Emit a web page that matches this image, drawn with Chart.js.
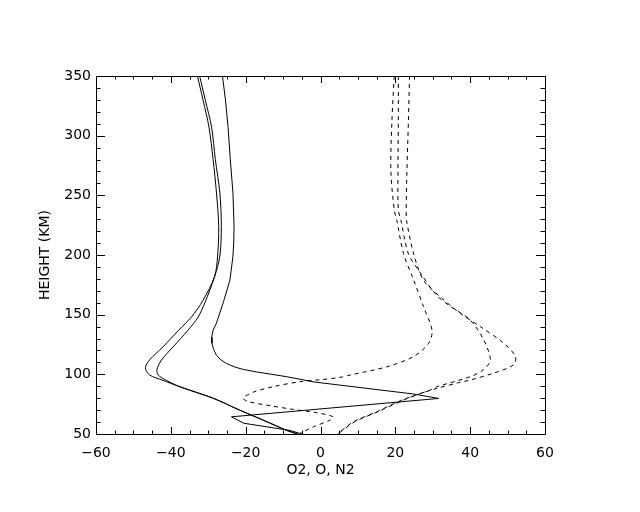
<!DOCTYPE html>
<html>
<head>
<meta charset="utf-8">
<title>Height profiles</title>
<script src="https://cdn.jsdelivr.net/npm/chart.js@4"></script>
<style>
  body { margin: 0; background: #fff; }
  canvas { display: block; }
</style>
</head>
<body>
<canvas id="chart" width="640" height="512"></canvas>
<script>
// axis ranges and tick labels
const xTicks = [-60, -40, -20, 0, 20, 40, 60];
const yTicks = [50, 100, 150, 200, 250, 300, 350];
const xMinorStep = 5;
const yMinorStep = 10;

// solid curves (height in km, value)
const solid1Height = [350, 330, 307, 280, 252, 224, 199, 182, 162, 148, 137, 123, 112, 105.5, 99.5, 95, 89.6, 80, 70, 61.6, 53, 50];
const solid1Value  = [-32.9, -31.4, -29.8, -28.7, -27.8, -27.2, -27.5, -28.3, -31.4, -34.5, -37.9, -42.1, -45.7, -46.8, -45.7, -42.1, -37.6, -28.7, -21.6, -15.3, -9, -6.3];

const solid2Height = [350, 330, 307, 280, 252, 224, 199, 182, 160, 148, 137, 123, 112, 104, 99.5, 95, 89.6, 80, 70, 61.6, 53, 50];
const solid2Value  = [-32.3, -30.8, -29.1, -28.1, -26.9, -26.5, -26.9, -28.3, -30.9, -32.7, -35.4, -39.4, -42.5, -43.7, -43.4, -41.2, -37.6, -28.7, -21.6, -15.3, -9, -6];

const solid3Height = [350, 330, 307, 280, 252, 224, 210, 199, 179, 160, 143, 137, 131, 126, 121, 116, 112, 109, 106, 104, 102, 100, 98, 93.5, 83.5, 79.8, 64.4, 59, 53, 50];
const solid3Value  = [-26.2, -25.4, -24.7, -24.1, -23.4, -23.1, -23.2, -23.4, -24.2, -26, -27.8, -28.7, -29.1, -29, -28.6, -27.8, -26.6, -25.1, -22.8, -20.5, -17.1, -13, -9, -1.5, 24.9, 31.6, -23.8, -20.5, -8.2, -5];

// dashed curves
const dashed1Height = [350, 313, 271, 238, 229, 201, 179, 157, 137, 126, 115, 106.3, 99.4, 97.4, 95.5, 93.8, 89.6, 85, 80, 77, 74, 70.6, 67.8, 64.4, 61.6, 56, 50.5];
const dashed1Value  = [19.7, 19.1, 18.8, 19.7, 20.4, 22.2, 24.9, 27.5, 29.8, 28.9, 24.9, 17.7, 7.9, 5.2, 0, -5.5, -12.8, -18, -20.7, -19, -14, -7.3, -1, 3.4, 2.5, -1.9, -5.5];

const dashed2Height = [350, 313, 271, 238, 229, 201, 185, 166, 157, 145.5, 129, 112, 104, 98, 89.6, 86.8, 79, 68.6, 60.2, 51.8, 50];
const dashed2Value  = [20.8, 20.8, 20.7, 20.8, 21.5, 23.5, 26.7, 31.1, 34.7, 40, 43.6, 45.4, 43.6, 40, 31.1, 29.3, 22.2, 15, 8.8, 5.2, 4.6];

const dashed3Height = [350, 313, 271, 238, 229, 201, 179, 165, 151, 140, 126, 115, 108, 101, 95.2, 93, 88.2, 84, 79, 68.6, 60.2, 51.8, 50];
const dashed3Value  = [23.8, 23.5, 23.1, 22.9, 23, 24.9, 27.5, 32, 37.4, 42.7, 49, 52.1, 51.6, 46.3, 40, 36.9, 31.1, 26.8, 22.6, 15.3, 9.1, 5.4, 4.8];

const toPoints = (hs, vs) => hs.map((h, i) => ({ x: vs[i], y: h }));

const curve = (hs, vs, dashed, tension) => ({
    data: toPoints(hs, vs),
    showLine: true,
    borderColor: '#000',
    borderWidth: 1,
    borderDash: dashed ? [4, 4] : [],
    pointRadius: 0,
    tension: tension,
    fill: false
});

// IDL-style box with inward ticks on all sides
const frameTicks = {
    id: 'frameTicks',
    afterDatasetsDraw(chart) {
        const { ctx, chartArea: a, scales: { x, y } } = chart;
        const crisp = v => Math.round(v) + 0.5;
        ctx.save();
        ctx.strokeStyle = '#000';
        ctx.lineWidth = 1;
        ctx.beginPath();
        ctx.rect(crisp(a.left), crisp(a.top), Math.round(a.right - a.left), Math.round(a.bottom - a.top));
        const xMin = xTicks[0], xMax = xTicks[xTicks.length - 1];
        for (let v = xMin; v <= xMax; v += xMinorStep) {
            const px = crisp(x.getPixelForValue(v));
            const len = xTicks.includes(v) ? 7 : 3.5;
            ctx.moveTo(px, a.bottom); ctx.lineTo(px, a.bottom - len);
            ctx.moveTo(px, a.top); ctx.lineTo(px, a.top + len);
        }
        const yMin = yTicks[0], yMax = yTicks[yTicks.length - 1];
        for (let v = yMin; v <= yMax; v += yMinorStep) {
            const py = crisp(y.getPixelForValue(v));
            const len = yTicks.includes(v) ? 9 : 4.5;
            ctx.moveTo(a.left, py); ctx.lineTo(a.left + len, py);
            ctx.moveTo(a.right, py); ctx.lineTo(a.right - len, py);
        }
        ctx.stroke();
        ctx.restore();
    }
};

const font = { family: 'DejaVu Sans', size: 14 };

new Chart(document.getElementById('chart'), {
    type: 'scatter',
    data: {
        datasets: [
            curve(solid1Height, solid1Value, false, 0.3),
            curve(solid2Height, solid2Value, false, 0.3),
            curve(solid3Height, solid3Value, false, 0),
            curve(dashed1Height, dashed1Value, true, 0.3),
            curve(dashed2Height, dashed2Value, true, 0.3),
            curve(dashed3Height, dashed3Value, true, 0.3)
        ]
    },
    options: {
        responsive: false,
        animation: false,
        layout: { padding: { top: 76, right: 95, left: 0, bottom: 0 } },
        plugins: { legend: { display: false }, tooltip: { enabled: false } },
        scales: {
            x: {
                type: 'linear',
                min: xTicks[0],
                max: xTicks[xTicks.length - 1],
                afterFit: s => { s.height = 78; },
                afterBuildTicks: s => { s.ticks = xTicks.map(v => ({ value: v })); },
                grid: { display: false, drawTicks: false },
                border: { display: false },
                ticks: {
                    color: '#000',
                    font: font,
                    padding: 11,
                    maxRotation: 0,
                    autoSkip: false,
                    callback: v => v < 0 ? '\u2212' + (-v) : String(v)
                },
                title: {
                    display: true,
                    text: 'O2, O, N2',
                    color: '#000',
                    font: font,
                    padding: { top: 0, bottom: 33 }
                }
            },
            y: {
                type: 'linear',
                min: yTicks[0],
                max: yTicks[yTicks.length - 1],
                afterFit: s => { s.width = 96; },
                afterBuildTicks: s => { s.ticks = yTicks.map(v => ({ value: v })); },
                grid: { display: false, drawTicks: false },
                border: { display: false },
                ticks: {
                    color: '#000',
                    font: font,
                    padding: 5,
                    autoSkip: false
                },
                title: {
                    display: true,
                    text: 'HEIGHT (KM)',
                    color: '#000',
                    font: font,
                    padding: { top: 37, bottom: 0 }
                }
            }
        }
    },
    plugins: [frameTicks]
});
</script>
</body>
</html>
